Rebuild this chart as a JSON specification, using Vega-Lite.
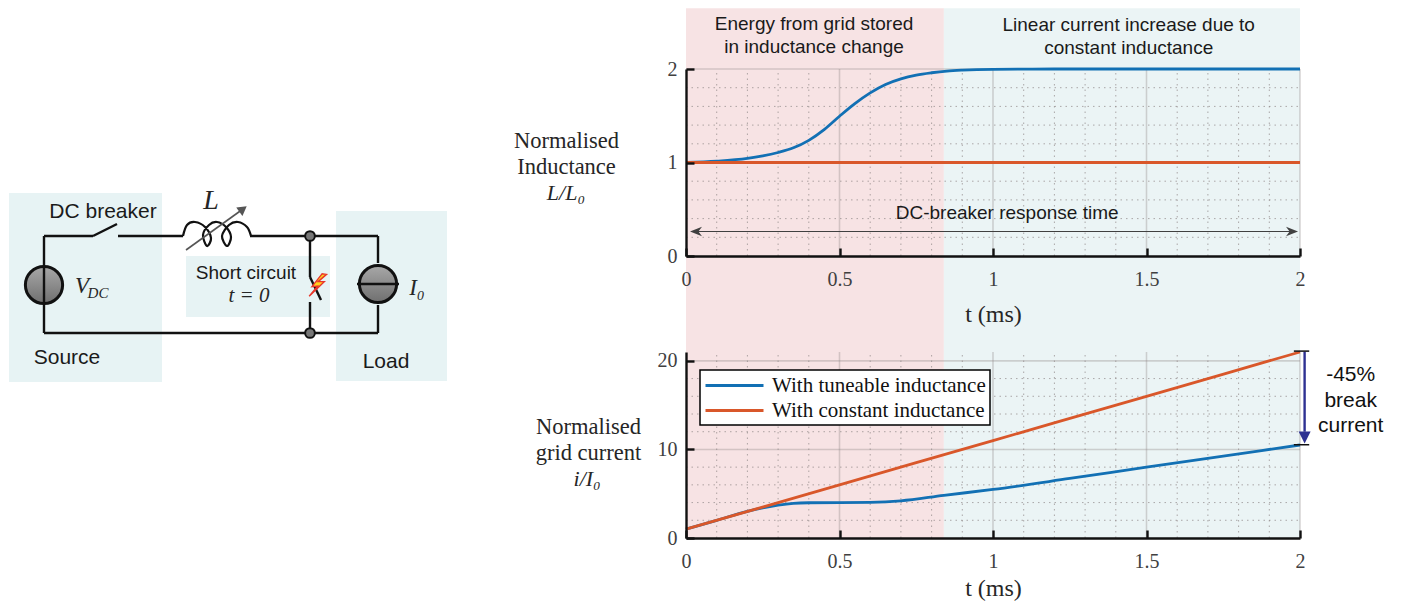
{
"$schema":"https://vega.github.io/schema/vega-lite/v6.json",
"width":1401,"height":601,"autosize":{"type":"none"},"padding":0,"background":"white",
"config":{"view":{"stroke":null},
 "axis":{"grid":false,"domain":true,"ticks":true,"domainOpacity":1,"tickOpacity":1,"labelFont":"Liberation Serif","labelFontSize":20,"labelColor":"#404040","labelFlush":false,"labelOverlap":false,"labelBound":false,"domainColor":"#111111","domainWidth":2.4,"tickColor":"#111111","tickWidth":2.4,"tickSize":-8,"titleFont":"Liberation Serif","titleFontSize":22.5,"titleFontWeight":"normal","titleColor":"#262626"},
 "legend":{"strokeWidth":1.5}},
"resolve":{"scale":{"x":"independent","y":"independent","color":"independent"},"axis":{"x":"independent","y":"independent"}},
"layer":[
{"encoding":{"x":{"field":"x","type":"quantitative","scale":{"domain":[0,460],"range":[0,460],"nice":false,"zero":false},"axis":null},"y":{"field":"y","type":"quantitative","scale":{"domain":[0,601],"range":[0,601],"nice":false,"zero":false},"axis":null}},
 "layer":[
 {"data":{"values":[{"part":"Source","x":9,"x2":162,"y":193,"y2":382},{"part":"Load","x":336,"x2":447,"y":211,"y2":381},{"part":"Short circuit","x":186,"x2":330,"y":256,"y2":317}]},"mark":{"type":"rect","color":"#e7f3f4"},"encoding":{"x2":{"field":"x2"},"y2":{"field":"y2"}}},
 {"data":{"values":[{"x":44,"y":285},{"x":378,"y":284}]},"mark":{"type":"point","filled":true,"size":1385,"opacity":1,"fill":{"gradient":"linear","x1":0,"y1":0,"x2":0,"y2":1,"stops":[{"offset":0,"color":"#a8a8a8"},{"offset":1,"color":"#6f6f6f"}]},"stroke":"#111","strokeWidth":3}},
 {"data":{"values":[
  {"x":44,"y":236,"x2":93,"y2":236},{"x":93,"y":236,"x2":117,"y2":224},{"x":118,"y":236,"x2":183,"y2":236},{"x":250,"y":236,"x2":378,"y2":236},
  {"x":44,"y":236,"x2":44,"y2":333},{"x":44,"y":333,"x2":378,"y2":333},{"x":378,"y":236,"x2":378,"y2":263},{"x":378,"y":305,"x2":378,"y2":333},
  {"x":310,"y":236,"x2":310,"y2":277},{"x":310,"y":277,"x2":321,"y2":300},{"x":310,"y":302,"x2":310,"y2":333},{"x":357,"y":284,"x2":399,"y2":284}]},
  "mark":{"type":"rule","color":"#111","strokeWidth":2.4},"encoding":{"x2":{"field":"x2"},"y2":{"field":"y2"}}},
 {"data":{"values":[
  {"order":0,"x":183,"y":236},{"order":1,"x":187,"y":225},{"order":2,"x":195,"y":222},{"order":3,"x":205,"y":227},{"order":4,"x":211,"y":238},{"order":5,"x":207,"y":246},{"order":6,"x":203,"y":235},{"order":7,"x":209,"y":225},{"order":8,"x":217,"y":222},{"order":9,"x":226,"y":227},{"order":10,"x":231,"y":237},{"order":11,"x":227,"y":246},{"order":12,"x":222,"y":236},{"order":13,"x":229,"y":225},{"order":14,"x":238,"y":222},{"order":15,"x":247,"y":227},{"order":16,"x":251,"y":236}]},
  "mark":{"type":"line","interpolate":"cardinal","color":"#111","strokeWidth":2.2},"encoding":{"order":{"field":"order"}}},
 {"data":{"values":[{"x":186,"y":250,"x2":243,"y2":209}]},"mark":{"type":"rule","color":"#555","strokeWidth":1.6},"encoding":{"x2":{"field":"x2"},"y2":{"field":"y2"}}},
 {"data":{"values":[{"x":243,"y":209}]},"mark":{"type":"point","shape":"triangle-up","angle":54,"filled":true,"opacity":1,"color":"#555","size":110}},
 {"data":{"values":[{"x":310,"y":236},{"x":310,"y":333}]},"mark":{"type":"point","filled":true,"opacity":1,"fill":"#777","stroke":"#111","strokeWidth":2,"size":95}},
 {"data":{"values":[{"x":317,"y":285}]},"mark":{"type":"point","shape":"M0.45,-1 L-0.45,0.15 L0.05,0.1 L-0.7,1 L0.65,-0.3 L0.1,-0.3 L0.85,-0.95 Z","filled":true,"opacity":1,"fill":"#ffd21e","stroke":"#e8352b","strokeWidth":1.4,"size":500}},
 {"data":{"values":[{"label":"DC breaker","x":103,"y":212},{"label":"Source","x":67,"y":358},{"label":"Load","x":386,"y":362}]},"mark":{"type":"text","font":"Liberation Sans","fontSize":21,"color":"#1a1a1a"},"encoding":{"text":{"field":"label"}}},
 {"data":{"values":[{"label":"Short circuit","x":246,"y":273}]},"mark":{"type":"text","font":"Liberation Sans","fontSize":19,"color":"#1a1a1a"},"encoding":{"text":{"field":"label"}}},
 {"data":{"values":[{"label":"t = 0","x":249,"y":296}]},"mark":{"type":"text","font":"Liberation Serif","fontStyle":"italic","fontSize":21,"color":"#262626"},"encoding":{"text":{"field":"label"}}},
 {"data":{"values":[{"label":"L","x":211,"y":201}]},"mark":{"type":"text","font":"Liberation Serif","fontStyle":"italic","fontSize":28,"color":"#262626"},"encoding":{"text":{"field":"label"}}},
 {"data":{"values":[{"label":"V","x":82,"y":286},{"label":"I₀","x":417,"y":288}]},"mark":{"type":"text","font":"Liberation Serif","fontStyle":"italic","fontSize":23,"color":"#262626"},"encoding":{"text":{"field":"label"}}},
 {"data":{"values":[{"label":"DC","x":98,"y":293}]},"mark":{"type":"text","font":"Liberation Serif","fontStyle":"italic","fontSize":15,"color":"#262626"},"encoding":{"text":{"field":"label"}}}
 ]},
{"encoding":{
  "x":{"field":"t","type":"quantitative","scale":{"domain":[0,2],"range":[686,1300],"nice":false,"zero":false},"axis":{"orient":"bottom","offset":-345,"zindex":1,"values":[0,0.5,1,1.5,2],"format":"~g","labelPadding":21,"title":"t (ms)","titlePadding":13,"titleFontSize":24}},
  "y":{"field":"v","type":"quantitative","scale":{"domain":[0,2],"range":[256,69],"nice":false,"zero":false},"axis":{"orient":"left","offset":-686,"zindex":1,"values":[0,1,2],"format":"~g","labelPadding":17,"title":["Normalised","Inductance"],"titleAngle":0,"titleAlign":"center","titleBaseline":"middle","titleLineHeight":26,"titleX":-120,"titleY":140}}},
 "layer":[
 {"data":{"values":[{"region":"Energy from grid stored in inductance change","t":0,"t2":0.84,"v":-3.02,"v2":2.65}]},"mark":{"type":"rect","color":"#f7e3e4"},"encoding":{"x2":{"field":"t2"},"y2":{"field":"v2"}}},
 {"data":{"values":[{"region":"Linear current increase due to constant inductance","t":0.84,"t2":2,"v":-3.02,"v2":2.65}]},"mark":{"type":"rect","color":"#ebf4f5"},"encoding":{"x2":{"field":"t2"},"y2":{"field":"v2"}}},
 {"data":{"values":[{"t":0.1,"v":0,"v2":2},{"t":0.2,"v":0,"v2":2},{"t":0.3,"v":0,"v2":2},{"t":0.4,"v":0,"v2":2},{"t":0.6,"v":0,"v2":2},{"t":0.7,"v":0,"v2":2},{"t":0.8,"v":0,"v2":2},{"t":0.9,"v":0,"v2":2},{"t":1.1,"v":0,"v2":2},{"t":1.2,"v":0,"v2":2},{"t":1.3,"v":0,"v2":2},{"t":1.4,"v":0,"v2":2},{"t":1.6,"v":0,"v2":2},{"t":1.7,"v":0,"v2":2},{"t":1.8,"v":0,"v2":2},{"t":1.9,"v":0,"v2":2}]},"mark":{"type":"rule","color":"#8f8686","opacity":0.7,"strokeWidth":1,"strokeDash":[1.5,4]},"encoding":{"y2":{"field":"v2"}}},
 {"data":{"values":[{"t":0,"t2":2,"v":0.2},{"t":0,"t2":2,"v":0.4},{"t":0,"t2":2,"v":0.6},{"t":0,"t2":2,"v":0.8},{"t":0,"t2":2,"v":1.2},{"t":0,"t2":2,"v":1.4},{"t":0,"t2":2,"v":1.6},{"t":0,"t2":2,"v":1.8}]},"mark":{"type":"rule","color":"#8f8686","opacity":0.7,"strokeWidth":1,"strokeDash":[1.5,4]},"encoding":{"x2":{"field":"t2"}}},
 {"data":{"values":[{"t":0.5,"v":0,"v2":2},{"t":1,"v":0,"v2":2},{"t":1.5,"v":0,"v2":2},{"t":2,"v":0,"v2":2}]},"mark":{"type":"rule","color":"#8f8686","opacity":0.35,"strokeWidth":1.6},"encoding":{"y2":{"field":"v2"}}},
 {"data":{"values":[{"t":0,"t2":2,"v":2},{"t":0,"t2":2,"v":1}]},"mark":{"type":"rule","color":"#8f8686","opacity":0.35,"strokeWidth":1.6},"encoding":{"x2":{"field":"t2"}}},
 {"data":{"values":[
  {"series":"With tuneable inductance","t":0,"v":1},{"series":"With tuneable inductance","t":0.1,"v":1.014},{"series":"With tuneable inductance","t":0.2,"v":1.043},{"series":"With tuneable inductance","t":0.25,"v":1.07},{"series":"With tuneable inductance","t":0.3,"v":1.107},{"series":"With tuneable inductance","t":0.35,"v":1.157},{"series":"With tuneable inductance","t":0.4,"v":1.237},{"series":"With tuneable inductance","t":0.45,"v":1.352},{"series":"With tuneable inductance","t":0.5,"v":1.495},{"series":"With tuneable inductance","t":0.55,"v":1.63},{"series":"With tuneable inductance","t":0.6,"v":1.745},{"series":"With tuneable inductance","t":0.65,"v":1.835},{"series":"With tuneable inductance","t":0.7,"v":1.895},{"series":"With tuneable inductance","t":0.75,"v":1.935},{"series":"With tuneable inductance","t":0.8,"v":1.96},{"series":"With tuneable inductance","t":0.85,"v":1.978},{"series":"With tuneable inductance","t":0.9,"v":1.988},{"series":"With tuneable inductance","t":1,"v":1.997},{"series":"With tuneable inductance","t":1.2,"v":2},{"series":"With tuneable inductance","t":2,"v":2},
  {"series":"With constant inductance","t":0,"v":1},{"series":"With constant inductance","t":2,"v":1}]},
  "mark":{"type":"line","interpolate":"monotone","strokeWidth":2.8},"encoding":{"color":{"field":"series","type":"nominal","scale":{"domain":["With tuneable inductance","With constant inductance"],"range":["#1270b4","#d9572a"]},"legend":null}}},
 {"data":{"values":[{"t":0.02,"t2":1.98,"v":0.262}]},"mark":{"type":"rule","color":"#404040","strokeWidth":1.1},"encoding":{"x2":{"field":"t2"}}},
 {"data":{"values":[{"t":0.0326,"v":0.262}]},"mark":{"type":"point","shape":"M-1,0 L1,-0.8 L0.4,0 L1,0.8 Z","filled":true,"opacity":1,"color":"#404040","size":144}},
 {"data":{"values":[{"t":1.974,"v":0.262}]},"mark":{"type":"point","shape":"M1,0 L-1,-0.8 L-0.4,0 L-1,0.8 Z","filled":true,"opacity":1,"color":"#404040","size":144}},
 {"data":{"values":[{"label":"Energy from grid stored\nin inductance change","t":0.417,"v":2.481},{"label":"Linear current increase due to\nconstant inductance","t":1.442,"v":2.47},{"label":"DC-breaker response time","t":1.046,"v":0.46}]},"mark":{"type":"text","font":"Liberation Sans","fontSize":19,"lineBreak":"\n","lineHeight":23,"color":"#1a1a1a"},"encoding":{"text":{"field":"label"}}},
 {"data":{"values":[{"label":"L/L₀","t":-0.391,"v":0.674}]},"mark":{"type":"text","font":"Liberation Serif","fontStyle":"italic","fontSize":22,"color":"#262626"},"encoding":{"text":{"field":"label"}}}
 ]},
{"encoding":{
  "x":{"field":"t","type":"quantitative","scale":{"domain":[0,2],"range":[686,1300],"nice":false,"zero":false},"axis":{"orient":"bottom","offset":-63,"zindex":1,"values":[0,0.5,1,1.5,2],"format":"~g","labelPadding":21,"title":"t (ms)","titlePadding":5,"titleFontSize":24}},
  "y":{"field":"v","type":"quantitative","scale":{"domain":[0,21],"range":[538,352],"nice":false,"zero":false},"axis":{"orient":"left","offset":-686,"zindex":1,"values":[0,10,20],"format":"~g","labelPadding":17,"title":["Normalised","grid current"],"titleAngle":0,"titleAlign":"center","titleBaseline":"middle","titleLineHeight":26,"titleX":-98,"titleY":426}}},
 "layer":[
 {"data":{"values":[{"t":0.1,"v":0,"v2":21},{"t":0.2,"v":0,"v2":21},{"t":0.3,"v":0,"v2":21},{"t":0.4,"v":0,"v2":21},{"t":0.6,"v":0,"v2":21},{"t":0.7,"v":0,"v2":21},{"t":0.8,"v":0,"v2":21},{"t":0.9,"v":0,"v2":21},{"t":1.1,"v":0,"v2":21},{"t":1.2,"v":0,"v2":21},{"t":1.3,"v":0,"v2":21},{"t":1.4,"v":0,"v2":21},{"t":1.6,"v":0,"v2":21},{"t":1.7,"v":0,"v2":21},{"t":1.8,"v":0,"v2":21},{"t":1.9,"v":0,"v2":21}]},"mark":{"type":"rule","color":"#8f8686","opacity":0.7,"strokeWidth":1,"strokeDash":[1.5,4]},"encoding":{"y2":{"field":"v2"}}},
 {"data":{"values":[{"t":0,"t2":2,"v":2},{"t":0,"t2":2,"v":4},{"t":0,"t2":2,"v":6},{"t":0,"t2":2,"v":8},{"t":0,"t2":2,"v":12},{"t":0,"t2":2,"v":14},{"t":0,"t2":2,"v":16},{"t":0,"t2":2,"v":18}]},"mark":{"type":"rule","color":"#8f8686","opacity":0.7,"strokeWidth":1,"strokeDash":[1.5,4]},"encoding":{"x2":{"field":"t2"}}},
 {"data":{"values":[{"t":0.5,"v":0,"v2":21},{"t":1,"v":0,"v2":21},{"t":1.5,"v":0,"v2":21},{"t":2,"v":0,"v2":21}]},"mark":{"type":"rule","color":"#8f8686","opacity":0.35,"strokeWidth":1.6},"encoding":{"y2":{"field":"v2"}}},
 {"data":{"values":[{"t":0,"t2":2,"v":10},{"t":0,"t2":2,"v":20}]},"mark":{"type":"rule","color":"#8f8686","opacity":0.35,"strokeWidth":1.6},"encoding":{"x2":{"field":"t2"}}},
 {"data":{"values":[
  {"series":"With tuneable inductance","t":0,"v":1},{"series":"With tuneable inductance","t":0.1,"v":2},{"series":"With tuneable inductance","t":0.2,"v":3},{"series":"With tuneable inductance","t":0.25,"v":3.4},{"series":"With tuneable inductance","t":0.3,"v":3.72},{"series":"With tuneable inductance","t":0.35,"v":3.92},{"series":"With tuneable inductance","t":0.4,"v":3.98},{"series":"With tuneable inductance","t":0.5,"v":4},{"series":"With tuneable inductance","t":0.6,"v":4.03},{"series":"With tuneable inductance","t":0.7,"v":4.2},{"series":"With tuneable inductance","t":0.84,"v":4.82},{"series":"With tuneable inductance","t":1,"v":5.48},{"series":"With tuneable inductance","t":1.25,"v":6.72},{"series":"With tuneable inductance","t":1.5,"v":8},{"series":"With tuneable inductance","t":1.75,"v":9.25},{"series":"With tuneable inductance","t":2,"v":10.5},
  {"series":"With constant inductance","t":0,"v":1},{"series":"With constant inductance","t":0.5,"v":6},{"series":"With constant inductance","t":1,"v":11},{"series":"With constant inductance","t":1.5,"v":16},{"series":"With constant inductance","t":2,"v":21}]},
  "mark":{"type":"line","interpolate":"monotone","strokeWidth":2.8},"encoding":{"color":{"field":"series","type":"nominal","scale":{"domain":["With tuneable inductance","With constant inductance"],"range":["#1270b4","#d9572a"]},"legend":{"orient":"none","legendX":700,"legendY":370,"title":null,"symbolType":"M-1,0H4.8","symbolSize":400,"symbolStrokeWidth":3,"labelFont":"Liberation Serif","labelFontSize":21,"labelColor":"#111","labelOffset":45,"labelLimit":400,"fillColor":"white","strokeColor":"black","padding":4,"rowPadding":3}}}},
 {"data":{"values":[{"t":2.015,"v":21.03,"v2":12}]},"mark":{"type":"rule","color":"#2e3192","strokeWidth":2.4},"encoding":{"y2":{"field":"v2"}}},
 {"data":{"values":[{"t":2.015,"v":11.35}]},"mark":{"type":"point","shape":"M-1,-1 L1,-1 L0,1 Z","filled":true,"opacity":1,"color":"#2e3192","size":144}},
 {"data":{"values":[{"t":1.98,"t2":2.03,"v":21.1},{"t":1.98,"t2":2.03,"v":10.53}]},"mark":{"type":"rule","color":"#111","strokeWidth":1.5},"encoding":{"x2":{"field":"t2"}}},
 {"data":{"values":[{"label":"-45%\nbreak\ncurrent","t":2.165,"v":18.4}]},"mark":{"type":"text","font":"Liberation Sans","fontSize":21,"lineBreak":"\n","lineHeight":25.5,"color":"#111"},"encoding":{"text":{"field":"label"}}},
 {"data":{"values":[{"label":"i/I₀","t":-0.322,"v":6.65}]},"mark":{"type":"text","font":"Liberation Serif","fontStyle":"italic","fontSize":22,"color":"#262626"},"encoding":{"text":{"field":"label"}}}
 ]}
]}
